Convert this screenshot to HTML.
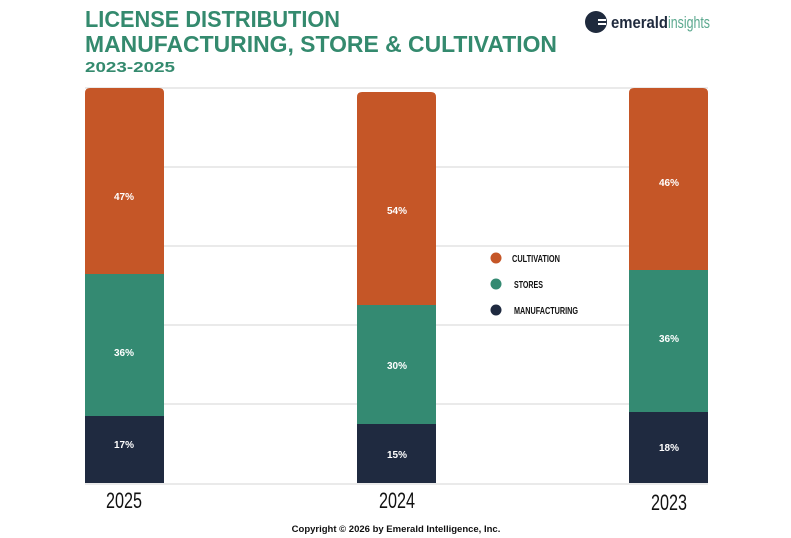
<!DOCTYPE html>
<html><head><meta charset="utf-8"><style>
html,body{margin:0;padding:0;background:#fff;}
svg{display:block;}
.t{font-family:"Liberation Sans",sans-serif;font-weight:bold;fill:#348a6e;}
.c{font-family:"Liberation Sans",sans-serif;font-weight:bold;font-stretch:condensed;}
</style></head><body>
<svg width="791" height="538" xmlns="http://www.w3.org/2000/svg">
<rect width="791" height="538" fill="#fff"/>
<text class="t" x="85" y="27" font-size="23" textLength="255" lengthAdjust="spacingAndGlyphs">LICENSE DISTRIBUTION</text>
<text class="t" x="85" y="52" font-size="23" textLength="472" lengthAdjust="spacingAndGlyphs">MANUFACTURING, STORE &amp; CULTIVATION</text>
<text class="t" x="85" y="72" font-size="15" textLength="90" lengthAdjust="spacingAndGlyphs">2023-2025</text>
<path d="M600 9 A12 12 0 1 0 600 35 A9 9 0 0 1 600 9Z" fill="#1f2a3d"/>
<circle cx="596" cy="22" r="11" fill="#1f2a3d"/>
<rect x="598" y="19" width="8" height="2" fill="#fff"/><rect x="598" y="23" width="8" height="2" fill="#fff"/>
<text x="611" y="28" font-family="Liberation Sans,sans-serif" font-size="17" font-weight="bold" fill="#1f2a3d" textLength="57" lengthAdjust="spacingAndGlyphs">emerald</text>
<text x="668" y="28" font-family="Liberation Sans,sans-serif" font-size="17" fill="#5aa88e" textLength="42" lengthAdjust="spacingAndGlyphs">insights</text>
<g stroke="#e3e3e3" stroke-width="1.5">
<line x1="85" x2="708" y1="88" y2="88"/><line x1="85" x2="708" y1="167" y2="167"/>
<line x1="85" x2="708" y1="246" y2="246"/><line x1="85" x2="708" y1="325" y2="325"/>
<line x1="85" x2="708" y1="404" y2="404"/><line x1="85" x2="708" y1="484" y2="484"/>
</g>
<g>
<path d="M85 274 V93 Q85 88 90 88 H159 Q164 88 164 93 V274Z" fill="#c55627"/>
<rect x="85" y="274" width="79" height="142" fill="#348a72"/>
<rect x="85" y="416" width="79" height="67" fill="#1f2a40"/>
<path d="M357 305 V97 Q357 92 362 92 H431 Q436 92 436 97 V305Z" fill="#c55627"/>
<rect x="357" y="305" width="79" height="119" fill="#348a72"/>
<rect x="357" y="424" width="79" height="59" fill="#1f2a40"/>
<path d="M629 270 V93 Q629 88 634 88 H703 Q708 88 708 93 V270Z" fill="#c55627"/>
<rect x="629" y="270" width="79" height="142" fill="#348a72"/>
<rect x="629" y="412" width="79" height="71" fill="#1f2a40"/>
</g>
<g class="c" fill="#fff" font-size="10" text-anchor="middle">
<text x="124" y="200">47%</text><text x="124" y="356">36%</text><text x="124" y="448">17%</text>
<text x="397" y="214">54%</text><text x="397" y="369">30%</text><text x="397" y="458">15%</text>
<text x="669" y="186">46%</text><text x="669" y="342">36%</text><text x="669" y="451">18%</text>
</g>
<g fill="#111" font-size="22" text-anchor="middle" font-family="Liberation Sans,sans-serif">
<text x="124" y="508" textLength="36" lengthAdjust="spacingAndGlyphs">2025</text>
<text x="397" y="508" textLength="36" lengthAdjust="spacingAndGlyphs">2024</text>
<text x="669" y="510" textLength="36" lengthAdjust="spacingAndGlyphs">2023</text>
</g>
<circle cx="496" cy="258" r="5.5" fill="#c55627"/>
<circle cx="496" cy="284" r="5.5" fill="#348a72"/>
<circle cx="496" cy="310" r="5.5" fill="#1f2a40"/>
<g class="c" fill="#111" font-size="10">
<text x="512" y="262" textLength="48" lengthAdjust="spacingAndGlyphs">CULTIVATION</text>
<text x="514" y="288" textLength="29" lengthAdjust="spacingAndGlyphs">STORES</text>
<text x="514" y="314" textLength="64" lengthAdjust="spacingAndGlyphs">MANUFACTURING</text>
</g>
<text x="396" y="532" text-anchor="middle" font-family="Liberation Sans,sans-serif" font-weight="bold" font-size="9.5" fill="#111">Copyright © 2026 by Emerald Intelligence, Inc.</text>
</svg>
</body></html>
